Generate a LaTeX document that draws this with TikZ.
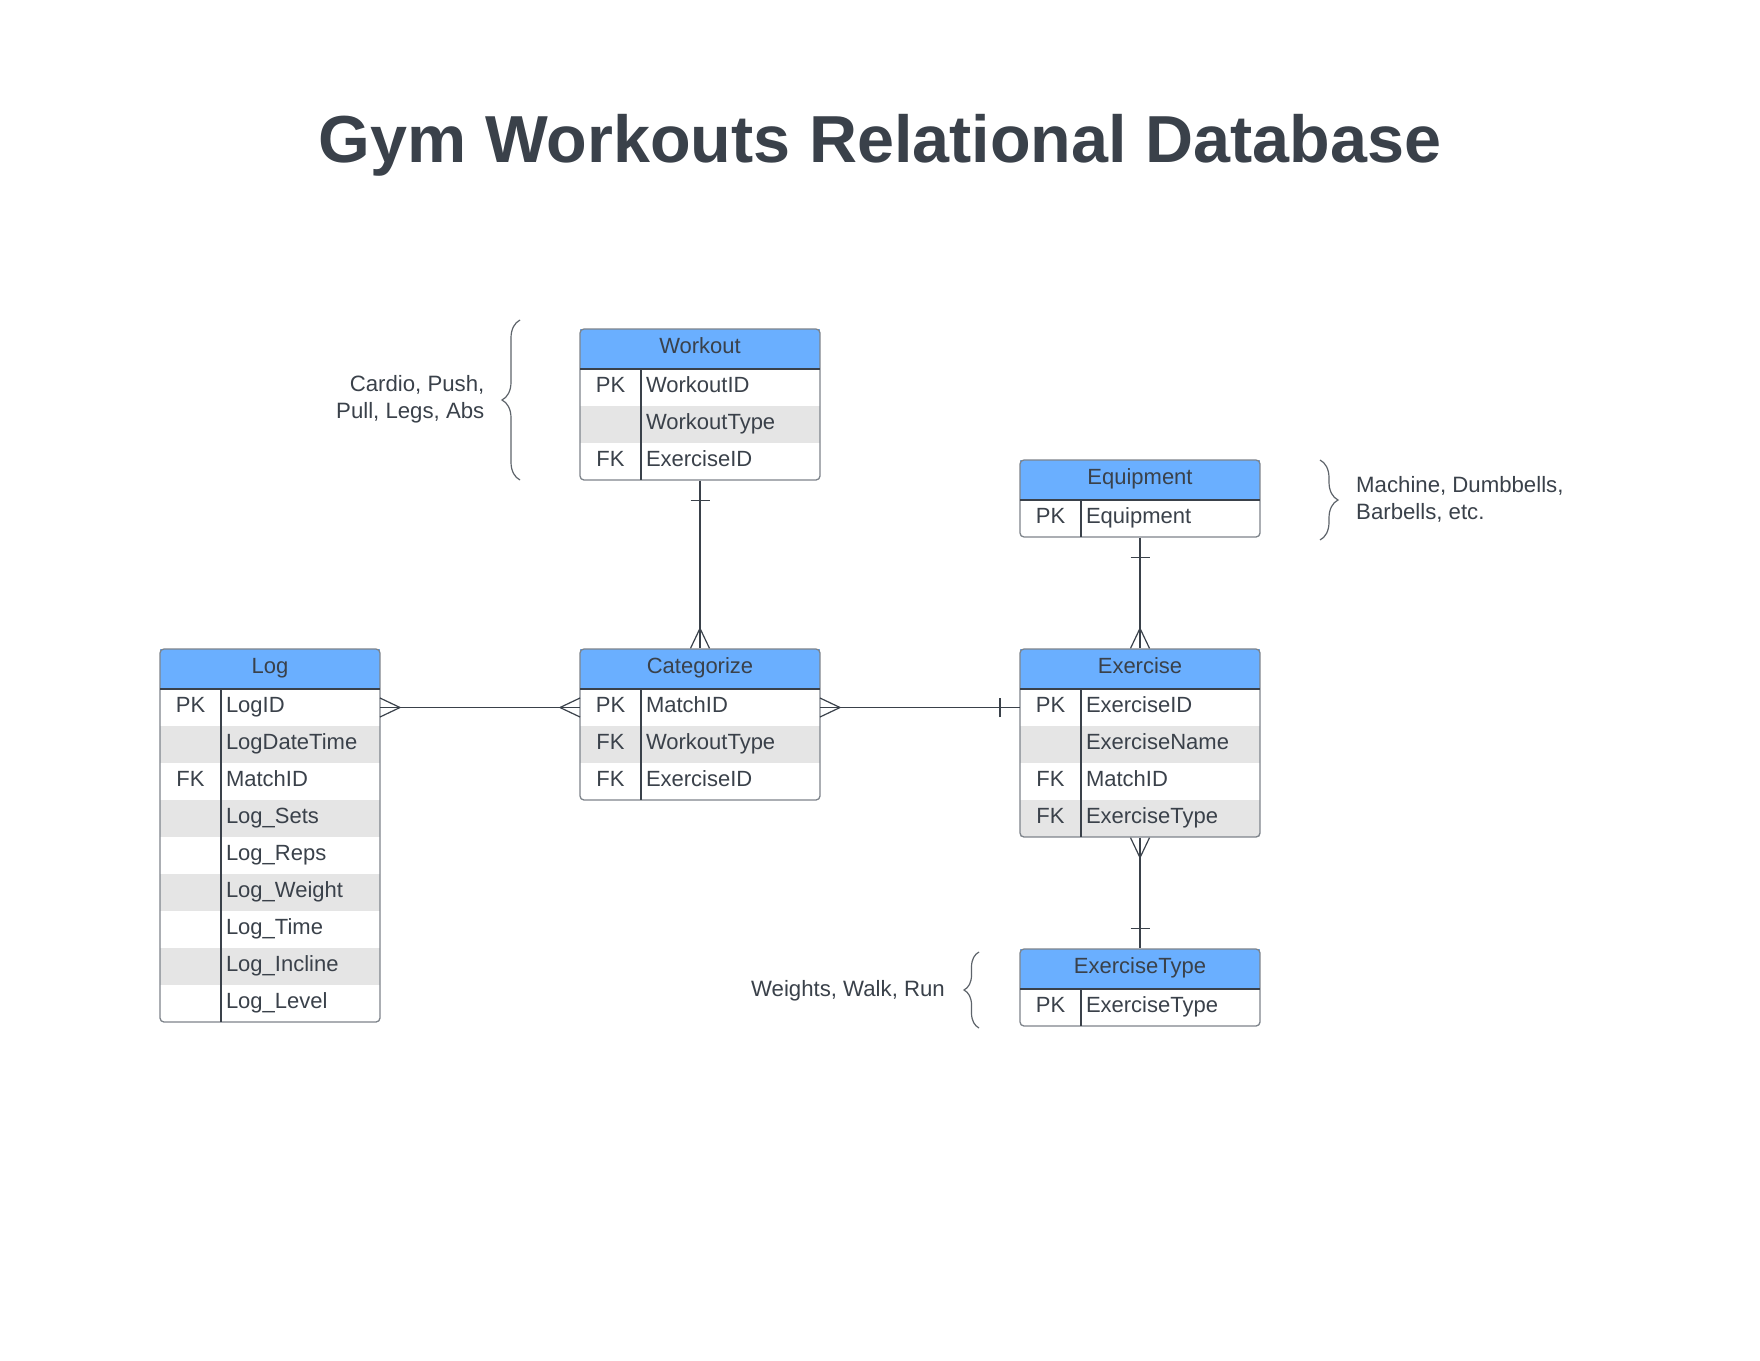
\documentclass[tikz,border=0pt]{standalone}
\usepackage{fontspec}
\setmainfont{Liberation Sans}
\usepackage{xcolor}
\usepackage{tikz}
\usetikzlibrary{positioning, fit, decorations.markings, decorations.pathreplacing}
\definecolor{inkgray}{HTML}{3A414A}
\definecolor{headblue}{HTML}{6AAFFF}
\definecolor{rowgray}{HTML}{E5E5E5}
\definecolor{framegray}{HTML}{7E848B}
\definecolor{bracegray}{HTML}{5E646B}
\tikzstyle{titletext} = [anchor=base, text=inkgray, font=\fontsize{66.5}{70}\selectfont\bfseries]
\tikzstyle{tablehead} = [rectangle, anchor=north west, minimum width=240pt, minimum height=40pt, inner sep=0pt, outer sep=0pt, text height=14.5pt, text depth=5.5pt, fill=headblue, text=inkgray, font=\fontsize{22}{27}\selectfont]
\tikzstyle{keycell} = [rectangle, minimum width=61pt, minimum height=37pt, inner sep=0pt, outer sep=0pt, text height=14.5pt, text depth=5.5pt, fill=white, text=inkgray, font=\fontsize{22}{27}\selectfont]
\tikzstyle{fieldcell} = [keycell, minimum width=0pt, inner xsep=5pt, text width=169pt]
\tikzstyle{logfield} = [fieldcell, text width=149pt]
\tikzstyle{shaded} = [fill=rowgray]
\tikzstyle{tableframe} = [rectangle, draw=framegray, line width=1.3pt, rounded corners=4pt, inner sep=0pt]
\tikzstyle{divider} = [draw=inkgray, line width=1.2pt]
\tikzstyle{relation} = [draw=inkgray, line width=1.2pt]
\tikzstyle{footline} = [draw=inkgray, line width=1.2pt]
\tikzstyle{crowstart} = [postaction={decoration={markings, mark=at position 0 with {\draw [footline] (20pt,0pt) -- (0pt,9.5pt) (20pt,0pt) -- (0pt,-9.5pt);}}, decorate}]
\tikzstyle{crowend} = [postaction={decoration={markings, mark=at position 1 with {\draw [footline] (-20pt,0pt) -- (0pt,9.5pt) (-20pt,0pt) -- (0pt,-9.5pt);}}, decorate}]
\tikzstyle{barstart} = [postaction={decoration={markings, mark=at position 0 with {\draw [footline] (20pt,-9.5pt) -- (20pt,9.5pt);}}, decorate}]
\tikzstyle{barend} = [postaction={decoration={markings, mark=at position 1 with {\draw [footline] (-20pt,-9.5pt) -- (-20pt,9.5pt);}}, decorate}]
\tikzstyle{curly} = [draw=bracegray, line width=1.2pt, decorate]
\tikzstyle{note} = [inner sep=0pt, text=inkgray, font=\fontsize{22.2}{27}\selectfont]

\begin{document}
\begin{tikzpicture}[x=1pt, y=-1pt, node distance=0pt]
\fill [white] (0,0) rectangle (1760,1360);
\useasboundingbox (0,0) rectangle (1760,1360);

\node (title) [titletext] at (880,162) {Gym Workouts Relational Database};

\node (workout-head) [tablehead] at (580,329) {Workout};
\node (workout-k1) [keycell, below right=of workout-head.south west] {PK};
\node (workout-f1) [fieldcell, right=of workout-k1] {WorkoutID};
\node (workout-k2) [keycell, shaded, below=of workout-k1] {};
\node (workout-f2) [fieldcell, shaded, right=of workout-k2] {WorkoutType};
\node (workout-k3) [keycell, below=of workout-k2] {FK};
\node (workout-f3) [fieldcell, right=of workout-k3] {ExerciseID};
\node (workout) [tableframe, fit=(workout-head)(workout-k3)(workout-f3)] {};
\draw [divider] (workout-head.south west) -- (workout-head.south east);
\draw [divider] (workout-k1.north east) -- (workout-k3.south east);

\node (categorize-head) [tablehead] at (580,649) {Categorize};
\node (categorize-k1) [keycell, below right=of categorize-head.south west] {PK};
\node (categorize-f1) [fieldcell, right=of categorize-k1] {MatchID};
\node (categorize-k2) [keycell, shaded, below=of categorize-k1] {FK};
\node (categorize-f2) [fieldcell, shaded, right=of categorize-k2] {WorkoutType};
\node (categorize-k3) [keycell, below=of categorize-k2] {FK};
\node (categorize-f3) [fieldcell, right=of categorize-k3] {ExerciseID};
\node (categorize) [tableframe, fit=(categorize-head)(categorize-k3)(categorize-f3)] {};
\draw [divider] (categorize-head.south west) -- (categorize-head.south east);
\draw [divider] (categorize-k1.north east) -- (categorize-k3.south east);

\node (log-head) [tablehead, minimum width=220pt] at (160,649) {Log};
\node (log-k1) [keycell, below right=of log-head.south west] {PK};
\node (log-f1) [logfield, right=of log-k1] {LogID};
\node (log-k2) [keycell, shaded, below=of log-k1] {};
\node (log-f2) [logfield, shaded, right=of log-k2] {LogDateTime};
\node (log-k3) [keycell, below=of log-k2] {FK};
\node (log-f3) [logfield, right=of log-k3] {MatchID};
\node (log-k4) [keycell, shaded, below=of log-k3] {};
\node (log-f4) [logfield, shaded, right=of log-k4] {Log\_Sets};
\node (log-k5) [keycell, below=of log-k4] {};
\node (log-f5) [logfield, right=of log-k5] {Log\_Reps};
\node (log-k6) [keycell, shaded, below=of log-k5] {};
\node (log-f6) [logfield, shaded, right=of log-k6] {Log\_Weight};
\node (log-k7) [keycell, below=of log-k6] {};
\node (log-f7) [logfield, right=of log-k7] {Log\_Time};
\node (log-k8) [keycell, shaded, below=of log-k7] {};
\node (log-f8) [logfield, shaded, right=of log-k8] {Log\_Incline};
\node (log-k9) [keycell, below=of log-k8] {};
\node (log-f9) [logfield, right=of log-k9] {Log\_Level};
\node (log) [tableframe, fit=(log-head)(log-k9)(log-f9)] {};
\draw [divider] (log-head.south west) -- (log-head.south east);
\draw [divider] (log-k1.north east) -- (log-k9.south east);

\node (exercise-head) [tablehead] at (1020,649) {Exercise};
\node (exercise-k1) [keycell, below right=of exercise-head.south west] {PK};
\node (exercise-f1) [fieldcell, right=of exercise-k1] {ExerciseID};
\node (exercise-k2) [keycell, shaded, below=of exercise-k1] {};
\node (exercise-f2) [fieldcell, shaded, right=of exercise-k2] {ExerciseName};
\node (exercise-k3) [keycell, below=of exercise-k2] {FK};
\node (exercise-f3) [fieldcell, right=of exercise-k3] {MatchID};
\node (exercise-k4) [keycell, shaded, below=of exercise-k3] {FK};
\node (exercise-f4) [fieldcell, shaded, right=of exercise-k4] {ExerciseType};
\node (exercise) [tableframe, fit=(exercise-head)(exercise-k4)(exercise-f4)] {};
\draw [divider] (exercise-head.south west) -- (exercise-head.south east);
\draw [divider] (exercise-k1.north east) -- (exercise-k4.south east);

\node (equipment-head) [tablehead] at (1020,460) {Equipment};
\node (equipment-k1) [keycell, below right=of equipment-head.south west] {PK};
\node (equipment-f1) [fieldcell, right=of equipment-k1] {Equipment};
\node (equipment) [tableframe, fit=(equipment-head)(equipment-k1)(equipment-f1)] {};
\draw [divider] (equipment-head.south west) -- (equipment-head.south east);
\draw [divider] (equipment-k1.north east) -- (equipment-k1.south east);

\node (exercisetype-head) [tablehead] at (1020,949) {ExerciseType};
\node (exercisetype-k1) [keycell, below right=of exercisetype-head.south west] {PK};
\node (exercisetype-f1) [fieldcell, right=of exercisetype-k1] {ExerciseType};
\node (exercisetype) [tableframe, fit=(exercisetype-head)(exercisetype-k1)(exercisetype-f1)] {};
\draw [divider] (exercisetype-head.south west) -- (exercisetype-head.south east);
\draw [divider] (exercisetype-k1.north east) -- (exercisetype-k1.south east);

\draw [relation, barstart, crowend] (workout) -- (categorize);
\draw [relation, crowstart, crowend] (log-f1) -- (categorize-k1);
\draw [relation, crowstart, barend] (categorize-f1) -- (exercise-k1);
\draw [relation, barstart, crowend] (equipment) -- (exercise);
\draw [relation, crowstart, barend] (exercise) -- (exercisetype);

\draw [curly, decoration={brace, amplitude=18pt}] (520,480) -- (520,320);
\draw [curly, decoration={brace, amplitude=18pt}] (1320,460) -- (1320,540);
\draw [curly, decoration={brace, amplitude=15pt}] (979,1028) -- (979,952);

\node (workout-note) [note, anchor=north east, align=right] at (484.5,375) {Cardio, Push,\\Pull, Legs, Abs};
\node (equipment-note) [note, anchor=north west, align=left] at (1356,476) {Machine, Dumbbells,\\Barbells, etc.};
\node (exercisetype-note) [note, anchor=base east] at (945,996) {Weights, Walk, Run};
\end{tikzpicture}
\end{document}
